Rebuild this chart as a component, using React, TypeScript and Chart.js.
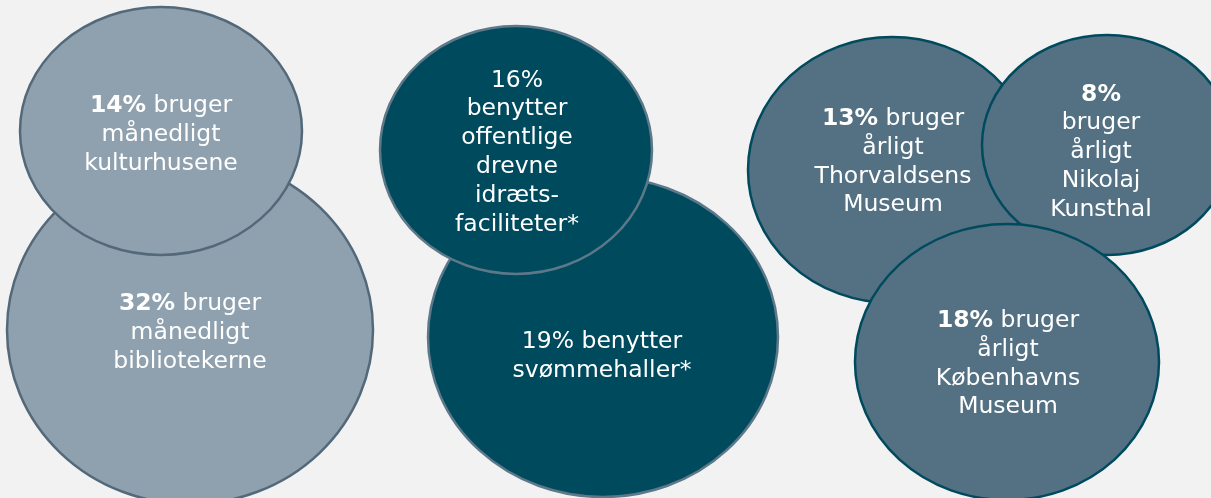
import React, { useEffect, useRef } from "react";
import { Chart, registerables } from "chart.js";

Chart.register(...registerables);

// Bubble geometry in chart units (x axis 0..1211, y axis 0..498, top = 0)
const names = ["Biblioteker", "Kulturhuse", "Svømmehaller", "Idrætsfaciliteter", "Thorvaldsens", "Nikolaj", "Københavns Museum"];
const centerX = [190, 161, 603, 516, 892, 1107, 1007];
const centerY = [330, 131, 337, 150, 170, 145, 362];
const radiusX = [183, 141, 175, 136, 144, 125, 152];
const radiusY = [174, 124, 160, 124, 133, 110, 138];
const fills = ["#8fa1ae", "#8fa1ae", "#004a5e", "#004a5e", "#537183", "#537183", "#537183"];
const strokes = ["#53697a", "#53697a", "#5c7889", "#5c7889", "#004a5e", "#004a5e", "#004a5e"];

// label lines: [bold part, normal part]
const labels: [string, string][][] = [
  [["32%", " bruger"], ["", "månedligt"], ["", "bibliotekerne"]],
  [["14%", " bruger"], ["", "månedligt"], ["", "kulturhusene"]],
  [["", "19% benytter"], ["", "svømmehaller*"]],
  [["", "16%"], ["", "benytter"], ["", "offentlige"], ["", "drevne"], ["", "idræts-"], ["", "faciliteter*"]],
  [["13%", " bruger"], ["", "årligt"], ["", "Thorvaldsens"], ["", "Museum"]],
  [["8%", ""], ["", "bruger"], ["", "årligt"], ["", "Nikolaj"], ["", "Kunsthal"]],
  [["18%", " bruger"], ["", "årligt"], ["", "Københavns"], ["", "Museum"]],
];
const labelX = [190, 161, 602, 517, 893, 1101, 1008];
const labelY = [333, 135, 356, 152.5, 162, 152, 364];

const FONT = "DejaVu Sans";
const FS = 23.5;
const LH = 28.8;

const ellipsePlugin = {
  id: "ellipses",
  afterDatasetsDraw(chart: any) {
    const ctx = chart.ctx;
    const xs = chart.scales.x;
    const ys = chart.scales.y;
    const meta = chart.getDatasetMeta(0);
    meta.data.forEach((el: any, i: number) => {
      const px = el.x;
      const py = el.y;
      const rx = Math.abs(xs.getPixelForValue(centerX[i] + radiusX[i]) - px);
      const ry = Math.abs(ys.getPixelForValue(centerY[i] + radiusY[i]) - py);
      ctx.save();
      ctx.beginPath();
      ctx.ellipse(px, py, rx, ry, 0, 0, Math.PI * 2);
      ctx.fillStyle = fills[i];
      ctx.fill();
      ctx.lineWidth = 2.5;
      ctx.strokeStyle = strokes[i];
      ctx.stroke();
      ctx.restore();
    });
    // labels
    labels.forEach((lines, i) => {
      const cx = xs.getPixelForValue(labelX[i]);
      const cy = ys.getPixelForValue(labelY[i]);
      const top = cy - ((lines.length - 1) * LH) / 2;
      ctx.save();
      ctx.fillStyle = "#ffffff";
      ctx.textBaseline = "middle";
      ctx.textAlign = "left";
      lines.forEach(([b, n], j) => {
        const y = top + j * LH;
        ctx.font = `bold ${FS}px "${FONT}"`;
        const wb = b ? ctx.measureText(b).width : 0;
        ctx.font = `${FS}px "${FONT}"`;
        const wn = n ? ctx.measureText(n).width : 0;
        const start = cx - (wb + wn) / 2;
        if (b) {
          ctx.font = `bold ${FS}px "${FONT}"`;
          ctx.fillText(b, start, y);
        }
        if (n) {
          ctx.font = `${FS}px "${FONT}"`;
          ctx.fillText(n, start + wb, y);
        }
      });
      ctx.restore();
    });
  },
};

const bgPlugin = {
  id: "bg",
  beforeDraw(chart: any) {
    const ctx = chart.ctx;
    ctx.save();
    ctx.fillStyle = "#f2f2f2";
    ctx.fillRect(0, 0, chart.width, chart.height);
    ctx.restore();
  },
};

export default function App() {
  const ref = useRef<HTMLCanvasElement>(null);
  useEffect(() => {
    document.body.style.margin = "0";
    document.body.style.background = "#f2f2f2";
    const chart = new Chart(ref.current!, {
      type: "bubble",
      data: {
        datasets: [
          {
            label: "Brug",
            data: names.map((_, i) => ({ x: centerX[i], y: centerY[i], r: 0 })),
            backgroundColor: "rgba(0,0,0,0)",
            borderWidth: 0,
          },
        ],
      },
      options: {
        animation: false,
        responsive: false,
        maintainAspectRatio: false,
        layout: { padding: 0 },
        plugins: { legend: { display: false }, tooltip: { enabled: false } },
        scales: {
          x: { type: "linear", min: 0, max: 1211, display: false },
          y: { type: "linear", min: 0, max: 498, reverse: true, display: false },
        },
      },
      plugins: [bgPlugin, ellipsePlugin],
    });
    return () => chart.destroy();
  }, []);
  return (
    <div style={{ width: 1211, height: 498 }}>
      <canvas ref={ref} width={1211} height={498} style={{ width: 1211, height: 498, display: "block" }} />
    </div>
  );
}
